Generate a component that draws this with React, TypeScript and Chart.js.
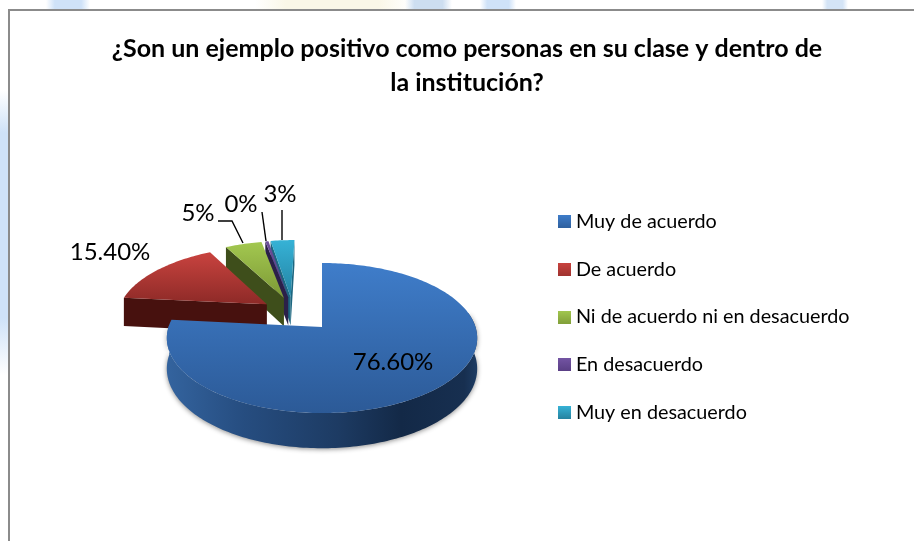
import React, { useEffect, useRef } from "react";
import { Chart, registerables } from "chart.js";

Chart.register(...registerables);

const titleLines = ["¿Son un ejemplo positivo como personas en su clase y dentro de", "la institución?"];
const categories = ["Muy de acuerdo", "De acuerdo", "Ni de acuerdo ni en desacuerdo", "En desacuerdo", "Muy en desacuerdo"];
const values = [76.6, 15.4, 4.6, 0.4, 3];
const valueLabels = ["76.60%", "15.40%", "5%", "0%", "3%"];

const topLight = ["#3f7dca", "#c9433f", "#a3c850", "#6c4f9a", "#36b2d6"];
const topDark = ["#2c5a97", "#8d2a27", "#7c9835", "#54397c", "#2382a2"];
const wallColors = ["#2f5c95", "#47110e", "#3e4e1b", "#2b2049", "#1c6680"];
const legendLight = ["#3f7dca", "#c9433f", "#a3c850", "#7354a3", "#36b2d6"];
const legendDark = ["#2f619f", "#a03330", "#82a03a", "#5a3f85", "#25829f"];

const FONT = "Lato, 'Open Sans', sans-serif";
const VIEW = { cx: 322, cy: 327, a: 153.5, b: 73.4, persp: 0.147, depth: 30, explode: 0.25 };
const sliceNudge = [0, 0, -0.008, -0.016, -0.026];
const labelPlaces = [
  { x: 393, y: 362 },
  { x: 110, y: 252 },
  { x: 198, y: 213 },
  { x: 241, y: 204 },
  { x: 280, y: 194 },
];
const leaders: number[][][] = [
  [],
  [],
  [[218, 221], [232, 221], [243, 243]],
  [[262, 212], [266, 241]],
  [[282, 210], [282, 240]],
];
const topPatches = [
  { x0: 46, x1: 90, color: "207,226,248" },
  { x0: 255, x1: 410, color: "250,247,232" },
  { x0: 405, x1: 452, color: "205,222,240" },
  { x0: 480, x1: 516, color: "207,226,248" },
  { x0: 822, x1: 848, color: "212,228,246" },
];

function project(u: number, v: number, z: number) {
  const w = 1 - VIEW.persp * v;
  return { x: VIEW.cx + (VIEW.a * u) / w, y: VIEW.cy + (VIEW.b * v + VIEW.depth * z) / w };
}

function tracePath(ctx: CanvasRenderingContext2D, pts: { x: number; y: number }[]) {
  ctx.beginPath();
  pts.forEach((p, i) => (i ? ctx.lineTo(p.x, p.y) : ctx.moveTo(p.x, p.y)));
  ctx.closePath();
}

const backdropPlugin = {
  id: "pageBackdrop",
  beforeDraw(chart: any) {
    const { ctx, width, height } = chart;
    ctx.save();
    ctx.fillStyle = "#ffffff";
    ctx.fillRect(0, 0, width, height);
    topPatches.forEach((p) => {
      const g = ctx.createLinearGradient(p.x0, 0, p.x1, 0);
      g.addColorStop(0, `rgba(${p.color},0)`);
      g.addColorStop(0.2, `rgba(${p.color},1)`);
      g.addColorStop(0.8, `rgba(${p.color},1)`);
      g.addColorStop(1, `rgba(${p.color},0)`);
      ctx.fillStyle = g;
      ctx.fillRect(p.x0, 0, p.x1 - p.x0, 9);
    });
    const left = ctx.createLinearGradient(0, 90, 0, 375);
    left.addColorStop(0, "rgba(207,226,248,0)");
    left.addColorStop(0.15, "rgba(207,226,248,1)");
    left.addColorStop(0.8, "rgba(207,226,248,1)");
    left.addColorStop(1, "rgba(207,226,248,0)");
    ctx.fillStyle = left;
    ctx.fillRect(0, 90, 8, 285);
    ctx.strokeStyle = "#8b8b8b";
    ctx.lineWidth = 2;
    ctx.beginPath();
    ctx.moveTo(9, height);
    ctx.lineTo(9, 10);
    ctx.lineTo(width, 10);
    ctx.stroke();
    ctx.restore();
  },
};

const pie3dPlugin = {
  id: "pie3d",
  beforeDatasetDraw(chart: any) {
    const { ctx } = chart;
    const arcs = chart.getDatasetMeta(0).data;
    const midBlue = (arcs[0].startAngle + arcs[0].endAngle) / 2;
    const order = [4, 3, 2, 1, 0];
    ctx.save();
    order.forEach((i) => {
      const arc = arcs[i];
      const s = arc.startAngle;
      const e = arc.endAngle;
      const mid = (s + e) / 2;
      const ox = VIEW.explode * (Math.cos(mid) - Math.cos(midBlue)) + sliceNudge[i];
      const oy = VIEW.explode * (Math.sin(mid) - Math.sin(midBlue));
      const rim = (z: number, from = s, to = e) => {
        const pts = [];
        const n = Math.max(2, Math.ceil((to - from) / 0.02));
        for (let k = 0; k <= n; k++) {
          const t = from + ((to - from) * k) / n;
          pts.push(project(ox + Math.cos(t), oy + Math.sin(t), z));
        }
        return pts;
      };
      const apex = (z: number) => project(ox, oy, z);

      // radial wall on the leading edge, when it faces the viewer
      if (Math.cos(s) < 0.02) {
        const u = ox + Math.cos(s);
        const v = oy + Math.sin(s);
        tracePath(ctx, [apex(0), project(u, v, 0), project(u, v, 1), apex(1)]);
        ctx.fillStyle = wallColors[i];
        ctx.fill();
      }
      // radial wall on the trailing edge
      if (Math.cos(e) > -0.02 && i !== 0) {
        const u = ox + Math.cos(e);
        const v = oy + Math.sin(e);
        tracePath(ctx, [apex(0), project(u, v, 0), project(u, v, 1), apex(1)]);
        ctx.fillStyle = wallColors[i];
        ctx.fill();
      }
      // curved outer wall, only where the rim faces the viewer
      const from = Math.max(s, -0.2);
      const to = Math.min(e, Math.PI + 0.03);
      if (to > from) {
        ctx.save();
        ctx.shadowColor = "rgba(0,0,0,0.45)";
        ctx.shadowBlur = 5;
        ctx.shadowOffsetY = 1;
        tracePath(ctx, rim(0, from, to).concat(rim(1, from, to).reverse()));
        const g = ctx.createLinearGradient(165, 0, 480, 0);
        g.addColorStop(0, "#34649f");
        g.addColorStop(0.25, "#264d80");
        g.addColorStop(0.55, "#1d3b63");
        g.addColorStop(0.75, "#132947");
        g.addColorStop(0.95, "#172f50");
        g.addColorStop(1, "#1f3f68");
        ctx.fillStyle = g;
        ctx.fill();
        ctx.restore();
      }
      // top face
      const face = [apex(0), ...rim(0)];
      const ys = face.map((p) => p.y);
      const g = ctx.createLinearGradient(0, Math.min(...ys), 0, Math.max(...ys));
      g.addColorStop(0, topLight[i]);
      g.addColorStop(1, topDark[i]);
      tracePath(ctx, face);
      ctx.fillStyle = g;
      ctx.fill();
    });

    // leader lines and value labels
    ctx.strokeStyle = "#000000";
    ctx.lineWidth = 1.4;
    leaders.forEach((line) => {
      if (!line.length) return;
      ctx.beginPath();
      line.forEach(([x, y], k) => (k ? ctx.lineTo(x, y) : ctx.moveTo(x, y)));
      ctx.stroke();
    });
    ctx.fillStyle = "#000000";
    ctx.font = `24px ${FONT}`;
    ctx.textAlign = "center";
    ctx.textBaseline = "middle";
    valueLabels.forEach((text, i) => ctx.fillText(text, labelPlaces[i].x, labelPlaces[i].y));
    ctx.restore();
    return false;
  },
};

function legendSquare(i: number) {
  const c = document.createElement("canvas");
  c.width = 13;
  c.height = 13;
  const x = c.getContext("2d")!;
  const g = x.createLinearGradient(0, 0, 0, 13);
  g.addColorStop(0, legendLight[i]);
  g.addColorStop(1, legendDark[i]);
  x.fillStyle = g;
  x.fillRect(0, 0, 13, 13);
  return c;
}

export default function App() {
  const ref = useRef<HTMLCanvasElement>(null);
  useEffect(() => {
    document.body.style.margin = "0";
    const chart = new Chart(ref.current!, {
      type: "pie",
      data: {
        labels: categories,
        datasets: [{ data: values, backgroundColor: topLight, borderWidth: 0 }],
      },
      plugins: [backdropPlugin, pie3dPlugin],
      options: {
        animation: false,
        responsive: false,
        layout: { padding: { left: 74.5, right: 54.5, top: 32, bottom: 7 } },
        plugins: {
          tooltip: { enabled: false },
          title: {
            display: true,
            text: titleLines,
            color: "#000000",
            font: { family: FONT, size: 25, weight: "bold", lineHeight: 1.36 },
            padding: { top: 0, bottom: 0 },
          },
          legend: {
            position: "right",
            fullSize: false,
            labels: {
              color: "#000000",
              font: { family: FONT, size: 19.8 },
              padding: 28,
              usePointStyle: true,
              pointStyleWidth: 3,
              boxHeight: 13,
              generateLabels: () =>
                categories.map((text, i) => ({
                  text,
                  index: i,
                  datasetIndex: 0,
                  pointStyle: legendSquare(i),
                  fontColor: "#000000",
                  hidden: false,
                  lineWidth: 0,
                })),
            },
          },
        },
      },
    } as any);
    return () => chart.destroy();
  }, []);
  return <canvas ref={ref} width={914} height={541} style={{ display: "block" }} />;
}
